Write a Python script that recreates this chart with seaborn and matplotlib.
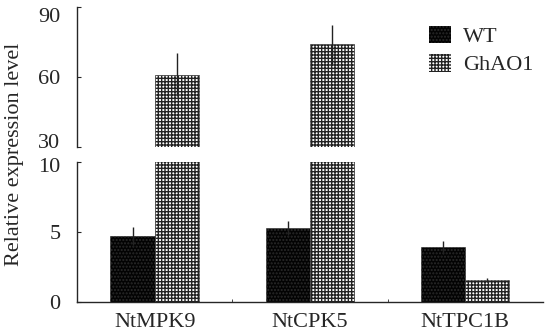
import seaborn as sns
import pandas as pd
import numpy as np
import matplotlib
matplotlib.use('Agg')
import matplotlib.pyplot as plt
import matplotlib.transforms as mtransforms
from matplotlib.patches import Patch

genes = ['NtMPK9', 'NtCPK5', 'NtTPC1B']
lines = ['WT', 'GhAO1']
wt_mean = [4.7, 5.27, 3.9]
wt_err = [0.65, 0.5, 0.45]
ghao1_mean = [61.0, 74.0, 1.57]
ghao1_err = [9.3, 8.2, 0.13]

data = pd.DataFrame({'gene': genes * 2,
                     'line': ['WT'] * 3 + ['GhAO1'] * 3,
                     'value': wt_mean + ghao1_mean,
                     'err': wt_err + ghao1_err})

sns.set_style('ticks')
plt.rcParams['font.family'] = ['Liberation Serif', 'DejaVu Serif']
plt.rcParams['hatch.linewidth'] = 1.0

fig = plt.figure(figsize=(5.5, 3.36), dpi=100)
ax_top = fig.add_axes([0.14, 0.5625, 0.847, 0.4165])
ax_bot = fig.add_axes([0.14, 0.101, 0.847, 0.417])

styles = {'WT': dict(face='#030303', edge='#2a2a2a', hatch='.....'),
          'GhAO1': dict(face='white', edge='#222222', hatch='+++++')}

for ax in (ax_top, ax_bot):
    sns.barplot(x='gene', y='value', hue='line', data=data, order=genes,
                hue_order=lines, width=0.57, errorbar=None, legend=False, ax=ax)
    # style bars and add error bars per hue
    for container, ln in zip(ax.containers, lines):
        sub = data[data['line'] == ln].set_index('gene').loc[genes]
        xs = []
        for bar in container:
            bar.set_facecolor(styles[ln]['face'])
            bar.set_edgecolor(styles[ln]['edge'])
            bar.set_hatch(styles[ln]['hatch'])
            bar.set_linewidth(0.4)
            xs.append(bar.get_x() + bar.get_width() / 2)
        ax.errorbar(xs, sub['value'], yerr=sub['err'], fmt='none',
                    ecolor='#222222', elinewidth=1.0, capsize=0, zorder=5)
    ax.set_xlim(-0.5, 2.5)
    ax.set_xlabel('')
    ax.set_ylabel('')
    for s in ['top', 'right']:
        ax.spines[s].set_visible(False)
    ax.spines['left'].set_linewidth(1.0)
    ax.tick_params(axis='y', direction='in', length=3, width=0.8,
                   labelsize=16, pad=12)

ax_top.set_ylim(30, 90)
ax_top.set_yticks([30, 60, 90])
ax_top.spines['bottom'].set_visible(False)
ax_top.tick_params(axis='x', bottom=False, labelbottom=False)

ax_bot.set_ylim(0, 10)
ax_bot.set_yticks([0, 5, 10])
ax_bot.spines['bottom'].set_linewidth(1.0)
ax_bot.set_xticks([0.5, 1.5], minor=True)
ax_bot.tick_params(axis='x', which='major', length=0, labelsize=16, pad=8)
ax_bot.tick_params(axis='x', which='minor', direction='in', length=2)

# nudge the labels at the axis break, like the original
def shift(tick, dy_px):
    off = mtransforms.ScaledTranslation(0, dy_px / 100, fig.dpi_scale_trans)
    tick.label1.set_transform(tick.label1.get_transform() + off)

top_ticks = ax_top.yaxis.get_major_ticks()
shift(top_ticks[0], 6)
shift(top_ticks[2], -8)
shift(ax_bot.yaxis.get_major_ticks()[2], -3)

fig.text(0.027, 0.54, 'Relative expression level', rotation=90,
         ha='center', va='center', fontsize=16)

handles = [Patch(facecolor=styles[ln]['face'], edgecolor=styles[ln]['edge'],
                 hatch=styles[ln]['hatch'], linewidth=0, label=ln) for ln in lines]
fig.legend(handles=handles, loc='upper left', bbox_to_anchor=(0.763, 0.95),
           frameon=False, fontsize=16, handlelength=1.0, handleheight=0.85,
           handletextpad=0.55, labelspacing=0.3, borderaxespad=0)

fig.savefig('out.png', dpi=100)
